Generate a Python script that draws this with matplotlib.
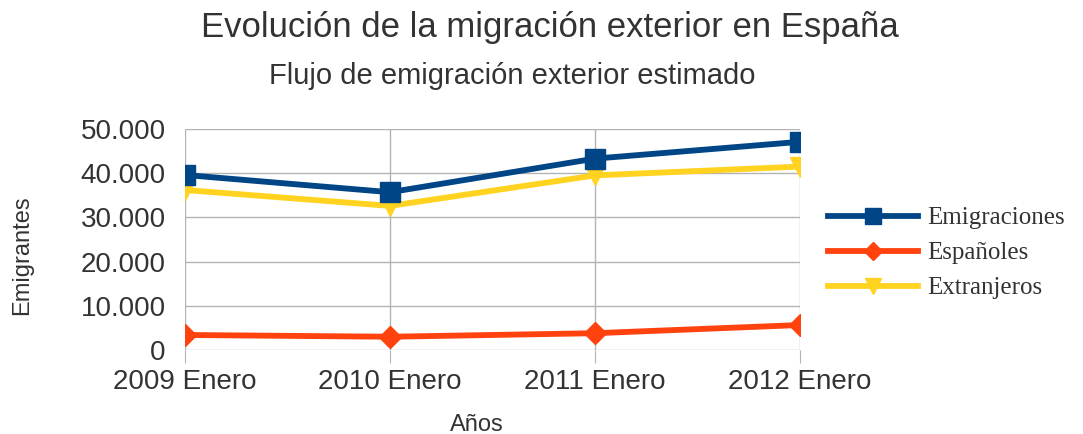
import matplotlib.pyplot as plt

years = ["2009 Enero", "2010 Enero", "2011 Enero", "2012 Enero"]
emigraciones = [39600, 35700, 43300, 47100]
espanoles = [3400, 3000, 3800, 5650]
extranjeros = [36200, 32600, 39500, 41500]
yticks = [0, 10000, 20000, 30000, 40000, 50000]
ytick_labels = ["0", "10.000", "20.000", "30.000", "40.000", "50.000"]

plt.rcParams['font.family'] = ['Liberation Sans', 'DejaVu Sans']
txt = '#333333'

fig = plt.figure(figsize=(10.83, 4.34), dpi=100)
ax = fig.add_axes([185/1083, 1-350/434, 615/1083, 221/434])

x = range(len(years))
ax.plot(x, emigraciones, color='#004586', lw=4.2, marker='s', ms=14, label='Emigraciones', zorder=4)
ax.plot(x, espanoles, color='#ff420e', lw=4.2, marker='D', ms=11, label='Españoles', zorder=3)
ax.plot(x, extranjeros, color='#ffd320', lw=4.2, marker='v', ms=15, label='Extranjeros', zorder=3)

ax.set_xlim(0, 3)
ax.set_ylim(0, 50000)
ax.set_xticks(list(x))
ax.set_xticklabels(years, fontsize=20, color=txt)
ax.set_yticks(yticks)
ax.set_yticklabels(ytick_labels, fontsize=20, color=txt)
ax.grid(True, color='#b3b3b3', lw=1)
for s in ax.spines.values():
    s.set_visible(False)
ax.tick_params(axis='x', length=9, color='#b3b3b3', pad=5)
ax.tick_params(axis='y', length=0, pad=14)

fig.text(477/1083, 1-425/434, "Años", fontsize=17, color=txt, ha='center', va='center')
fig.text(22/1083, 1-255/434, "Emigrantes", fontsize=17, color=txt, ha='center', va='center',
         rotation=90)

fig.text(550/1083, 1-27/434, "Evolución de la migración exterior en España", fontsize=25,
         color=txt, ha='center', va='center')
fig.text(512/1083, 1-76/434, "Flujo de emigración exterior estimado", fontsize=21,
         color=txt, ha='center', va='center')

ax.legend(loc='center left', bbox_to_anchor=(818/1083, 1-253/434), bbox_transform=fig.transFigure,
          frameon=False, handlelength=3.6, borderaxespad=0,
          prop={'family': 'Liberation Serif', 'size': 18}, labelcolor=txt,
          markerscale=0.8, handletextpad=0.35, labelspacing=0.5)

fig.savefig('out.png', dpi=100)
